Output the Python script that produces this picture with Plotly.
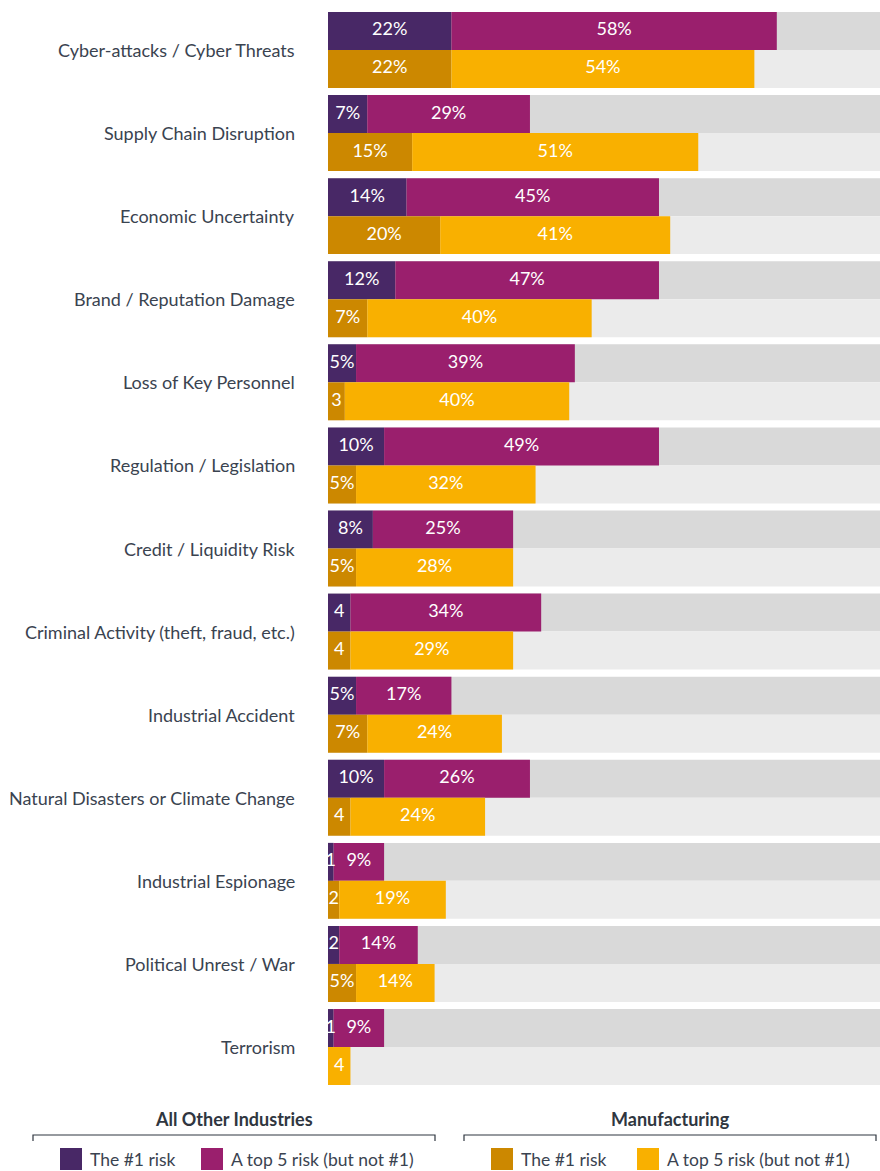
import plotly.graph_objects as go

categories = [
    "Cyber-attacks / Cyber Threats",
    "Supply Chain Disruption",
    "Economic Uncertainty",
    "Brand / Reputation Damage",
    "Loss of Key Personnel",
    "Regulation / Legislation",
    "Credit / Liquidity Risk",
    "Criminal Activity (theft, fraud, etc.)",
    "Industrial Accident",
    "Natural Disasters or Climate Change",
    "Industrial Espionage",
    "Political Unrest / War",
    "Terrorism",
]
other_top1 = [22, 7, 14, 12, 5, 10, 8, 4, 5, 10, 1, 2, 1]
other_top5 = [58, 29, 45, 47, 39, 49, 25, 34, 17, 26, 9, 14, 9]
mfg_top1 = [22, 15, 20, 7, 3, 5, 5, 4, 7, 4, 2, 5, 0]
mfg_top5 = [54, 51, 41, 40, 40, 32, 28, 29, 24, 24, 19, 14, 4]

C_PURPLE = "#482866"
C_MAGENTA = "#9a1f6d"
C_GOLD = "#cc8800"
C_YELLOW = "#f9b000"
C_GREY_TOP = "#d9d9d9"
C_GREY_BOT = "#ebebeb"
TXT = "#3a4350"
FONT = "Lato"

W, H = 880, 1171
BW = 0.457
OFF = BW / 2

n = len(categories)
y_top = [i - OFF for i in range(n)]
y_bot = [i + OFF for i in range(n)]


def lab(v):
    if v == 0:
        return ""
    return f"{v}%" if v >= 5 else f"{v}"


fig = go.Figure()

# background bars
fig.add_trace(go.Bar(y=y_top, x=[100] * n, base=0, orientation="h", width=BW,
                     marker=dict(color=C_GREY_TOP, line=dict(width=0)), hoverinfo="skip"))
fig.add_trace(go.Bar(y=y_bot, x=[100] * n, base=0, orientation="h", width=BW,
                     marker=dict(color=C_GREY_BOT, line=dict(width=0)), hoverinfo="skip"))

# data bars
fig.add_trace(go.Bar(y=y_top, x=other_top1, base=0, orientation="h", width=BW,
                     marker=dict(color=C_PURPLE, line=dict(width=0))))
fig.add_trace(go.Bar(y=y_top, x=other_top5, base=other_top1, orientation="h", width=BW,
                     marker=dict(color=C_MAGENTA, line=dict(width=0))))
fig.add_trace(go.Bar(y=y_bot, x=mfg_top1, base=0, orientation="h", width=BW,
                     marker=dict(color=C_GOLD, line=dict(width=0))))
fig.add_trace(go.Bar(y=y_bot, x=mfg_top5, base=mfg_top1, orientation="h", width=BW,
                     marker=dict(color=C_YELLOW, line=dict(width=0))))

# value labels
tf = dict(family=FONT, size=18, color="white")
for ys, v1, v2 in [(y_top, other_top1, other_top5), (y_bot, mfg_top1, mfg_top5)]:
    fig.add_trace(go.Scatter(x=[a / 2 for a in v1], y=ys, mode="text",
                             text=[lab(a) for a in v1], textfont=tf,
                             textposition="middle center", cliponaxis=False, hoverinfo="skip"))
    fig.add_trace(go.Scatter(x=[a + b / 2 for a, b in zip(v1, v2)], y=ys, mode="text",
                             text=[lab(b) for b in v2], textfont=tf,
                             textposition="middle center", cliponaxis=False, hoverinfo="skip"))

px_top, px_bot = 12, 1085
x_left = 328

fig.update_layout(
    width=W, height=H,
    margin=dict(l=0, r=0, t=0, b=0),
    paper_bgcolor="white", plot_bgcolor="white",
    barmode="overlay", showlegend=False,
    xaxis=dict(domain=[x_left / W, 1], range=[0, (W - x_left) / 5.61],
               visible=False, fixedrange=True),
    yaxis=dict(domain=[(H - px_bot) / H, (H - px_top) / H],
               range=[n - 1 + 2 * OFF, -2 * OFF],
               visible=False, fixedrange=True),
    font=dict(family=FONT, color=TXT),
)

# category labels
for i, c in enumerate(categories):
    fig.add_annotation(x=297 / W, xref="paper", y=i, yref="y", text=c,
                       showarrow=False, xanchor="right", yanchor="middle",
                       font=dict(family=FONT, size=18, color=TXT))


def py(p):
    return (H - p) / H


def pxx(p):
    return p / W


# legend groups
groups = [
    ("All Other Industries", 33, 435, [(60, C_PURPLE, "The #1 risk"), (201, C_MAGENTA, "A top 5 risk (but not #1)")]),
    ("Manufacturing", 464, 876, [(491, C_GOLD, "The #1 risk"), (637, C_YELLOW, "A top 5 risk (but not #1)")]),
]
for title, x0, x1, items in groups:
    fig.add_annotation(x=pxx((x0 + x1) / 2), y=py(1119), xref="paper", yref="paper",
                       text=f"<b>{title}</b>", showarrow=False, xanchor="center", yanchor="middle",
                       font=dict(family=FONT, size=18, color="#2f3640"))
    fig.add_shape(type="path", xref="paper", yref="paper",
                  path=f"M {pxx(x0)},{py(1141)} L {pxx(x0)},{py(1135)} L {pxx(x1)},{py(1135)} L {pxx(x1)},{py(1141)}",
                  line=dict(color="#2f3640", width=1.2))
    for sx, col, txt in items:
        fig.add_shape(type="rect", xref="paper", yref="paper",
                      x0=pxx(sx), x1=pxx(sx + 22), y0=py(1170), y1=py(1148),
                      fillcolor=col, line=dict(width=0))
        fig.add_annotation(x=pxx(sx + 28), y=py(1159), xref="paper", yref="paper",
                           text=txt, showarrow=False, xanchor="left", yanchor="middle",
                           font=dict(family=FONT, size=17.5, color=TXT))

fig.write_html("out.html")
